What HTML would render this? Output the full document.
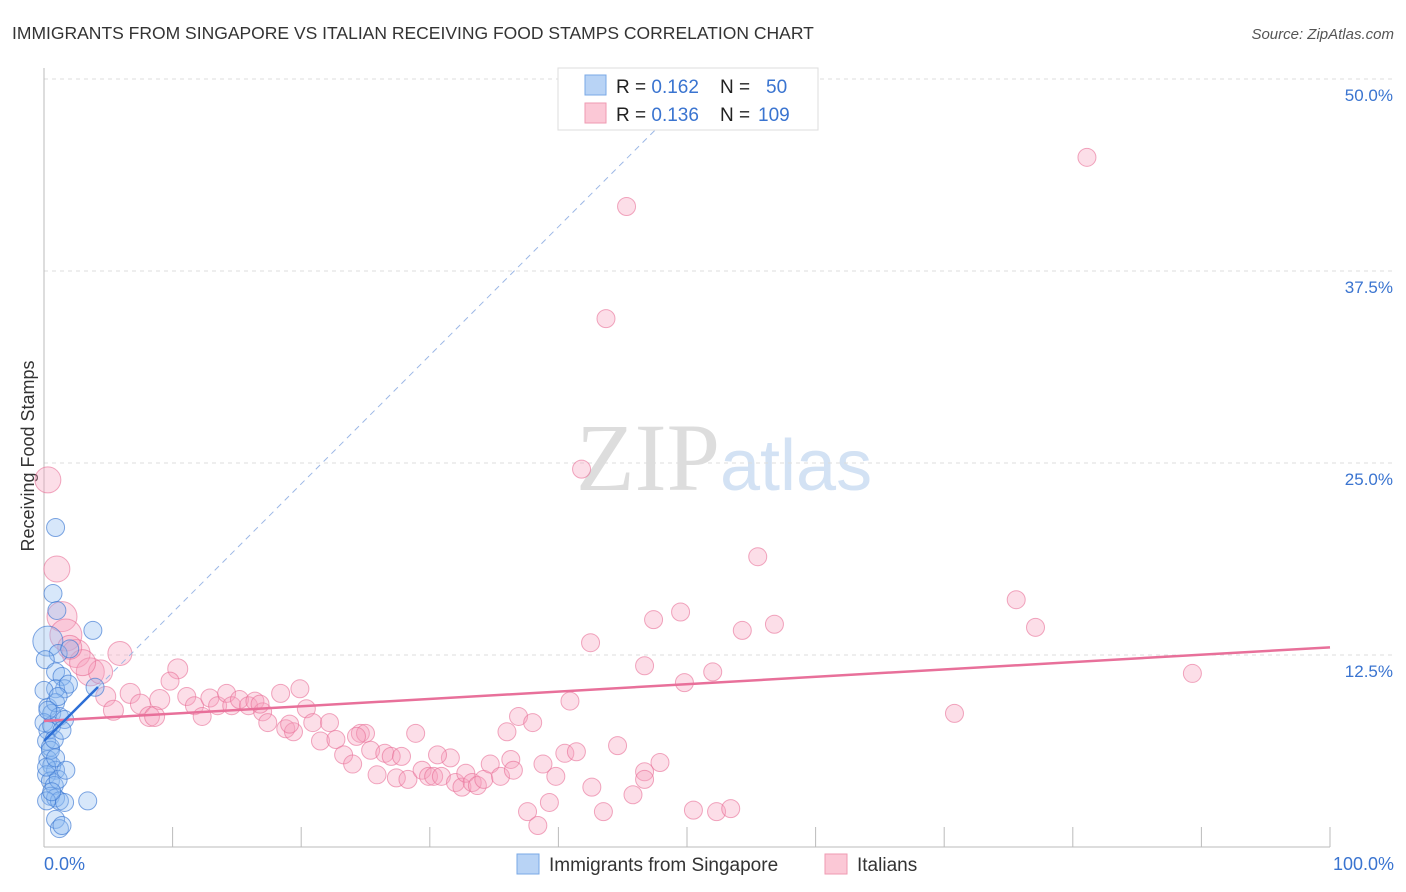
<!DOCTYPE html>
<html><head><meta charset="utf-8"><style>
body{margin:0;background:#fff;font-family:"Liberation Sans",sans-serif;}
#wrap{position:relative;width:1406px;height:892px;overflow:hidden;}
</style></head><body>
<div id="wrap">
<svg id="chart" width="1406" height="892" xmlns="http://www.w3.org/2000/svg">
<text x="12" y="39" font-size="17.5" fill="#333">IMMIGRANTS FROM SINGAPORE VS ITALIAN RECEIVING FOOD STAMPS CORRELATION CHART</text>
<text x="1394" y="39" font-size="15" fill="#555" font-style="italic" text-anchor="end">Source: ZipAtlas.com</text>
<text x="34" y="456" font-size="18" fill="#333" text-anchor="middle" transform="rotate(-90 34 456)">Receiving Food Stamps</text>
<text x="720" y="490" font-size="96" fill="#ddd" font-family="Liberation Serif,serif" text-anchor="end">ZIP</text>
<text x="720" y="490" font-size="72" fill="#d3e2f4" text-anchor="start">atlas</text>
<g id="grid"></g><g id="axes"></g><g id="pinkPts"></g><g id="bluePts"></g><g id="trends"></g>
<g>
<rect x="558" y="68" width="260" height="62" fill="#fff" stroke="#ddd"/>
<rect x="585" y="75" width="21" height="20" fill="#b8d3f5" stroke="#7aa8e6"/>
<rect x="585" y="103" width="21" height="20" fill="#fbc8d6" stroke="#ef9ab2"/>
<text x="616" y="93" font-size="19" fill="#222">R = <tspan fill="#3a74d0">0.162</tspan><tspan x="720">N = </tspan><tspan x="766" fill="#3a74d0">50</tspan></text>
<text x="616" y="121" font-size="19" fill="#222">R = <tspan fill="#3a74d0">0.136</tspan><tspan x="720">N = </tspan><tspan x="758" fill="#3a74d0">109</tspan></text>
</g>
<g>
<rect x="517" y="854" width="22" height="20" fill="#b8d3f5" stroke="#7aa8e6"/>
<text x="549" y="871" font-size="19" fill="#333">Immigrants from Singapore</text>
<rect x="825" y="854" width="22" height="20" fill="#fbc8d6" stroke="#ef9ab2"/>
<text x="857" y="871" font-size="19" fill="#333">Italians</text>
</g>
</svg></div>
<script>
const yTicks=[12.5,25,37.5,50];
const yTickLabels=["12.5%","25.0%","37.5%","50.0%"];
const xTickLabels=["0.0%","100.0%"];
const pinkX=[81.1,45.3,43.7,41.8,0.3,1.0,55.5,75.6,77.1,49.5,47.4,56.8,54.3,42.5,1.4,1.7,5.9,46.7,52.0,89.3,49.8,70.8,2.5,3.6,4.4,10.4,9.8,6.7,4.8,5.4,7.5,9.0,8.2,11.1,11.7,12.3,12.9,13.5,14.2,14.6,15.2,15.9,16.4,17.0,17.4,18.4,18.8,19.4,19.9,20.4,20.9,21.5,22.2,22.7,23.3,24.0,24.6,25.0,25.4,25.9,26.5,27.0,27.4,27.8,28.3,28.9,29.4,29.9,30.3,30.9,31.6,32.0,32.5,32.8,33.3,33.7,34.2,34.7,35.5,36.0,36.3,36.9,38.0,38.8,39.8,39.3,37.6,38.4,40.5,41.4,40.9,42.6,43.5,44.6,45.8,46.7,47.9,50.5,52.3,53.4,46.7,3.0,2.0,8.6,19.1,24.3,30.6,36.5,16.8];
const pinkY=[44.9,41.7,34.4,24.6,23.9,18.1,18.9,16.1,14.3,15.3,14.8,14.5,14.1,13.3,15.0,13.8,12.6,11.8,11.4,11.3,10.7,8.7,12.6,11.4,11.4,11.6,10.8,10.0,9.8,8.9,9.3,9.6,8.5,9.8,9.2,8.5,9.7,9.2,10.0,9.2,9.6,9.2,9.5,8.8,8.1,10.0,7.7,7.5,10.3,9.0,8.1,6.9,8.1,7.0,6.0,5.4,7.4,7.4,6.3,4.7,6.1,5.9,4.5,5.9,4.4,7.4,5.0,4.6,4.6,4.6,5.8,4.2,3.9,4.8,4.2,4.0,4.4,5.4,4.6,7.5,5.7,8.5,8.1,5.4,4.6,2.9,2.3,1.4,6.1,6.2,9.5,3.9,2.3,6.6,3.4,4.9,5.5,2.4,2.3,2.5,4.4,12.0,13.0,8.5,8.0,7.2,6.0,5.0,9.3];
const pinkR=[9,9,9,9,13,13,9,9,9,9,9,9,9,9,15,16,12,9,9,9,9,9,14,14,12,10,9,10,10,10,10,10,10,9,9,9,9,9,9,9,9,9,9,9,9,9,9,9,9,9,9,9,9,9,9,9,9,9,9,9,9,9,9,9,9,9,9,9,9,9,9,9,9,9,9,9,9,9,9,9,9,9,9,9,9,9,9,9,9,9,9,9,9,9,9,9,9,9,9,9,9,13,12,10,9,9,9,9,9];
const blueX=[0.9,0.7,1.0,3.8,0.3,1.1,2.0,0.1,0.9,1.4,1.6,0.9,1.9,3.970,0.3,0.6,0.9,0.0,0.3,0.6,1.2,1.6,0.2,0.5,0.3,0.6,0.9,0.2,0.5,0.8,1.1,0.5,0.9,1.2,1.6,3.4,0.9,1.2,1.4,0.2,0.5,0.8,0.2,0.6,0.0,1.1,1.4,0.3,0.9,1.7];
const blueY=[20.8,16.5,15.4,14.1,13.4,12.6,12.9,12.2,11.4,11.1,10.3,10.3,10.6,10.4,9.1,8.7,9.4,8.1,7.6,7.9,8.5,8.3,6.9,6.5,5.7,5.3,5.0,4.7,4.3,4.0,4.4,3.3,3.2,3.0,2.9,3.0,1.8,1.2,1.4,5.2,6.3,7.0,3.0,3.6,10.2,9.8,7.6,8.9,5.8,5.0];
const blueR=[9,9,9,9,15,9,9,9,9,9,9,9,9,9,9,9,9,9,9,9,9,9,9,9,9,9,9,9,9,9,9,9,9,9,9,9,9,9,9,9,9,9,9,9,9,9,9,9,9,9];
const pinkTrend=[8.2,13.0];
const blueTrend=[6.9,0.837];
const X0=44,X1=1330,YB=847,YPX=15.36;
const sx=v=>X0+v*(X1-X0)/100, sy=v=>YB-v*YPX;
const NS="http://www.w3.org/2000/svg";
function mk(tag,attrs,parent){const e=document.createElementNS(NS,tag);for(const k in attrs)e.setAttribute(k,attrs[k]);parent.appendChild(e);return e;}
const grid=document.getElementById('grid'),axes=document.getElementById('axes');
yTicks.forEach((t,i)=>{
 const l=mk('line',{x1:X0,x2:1394,y1:sy(t),y2:sy(t),stroke:'#ddd','stroke-dasharray':'4,4'},grid);
 
 
 const tx=mk('text',{x:1393,y:sy(t)+22,'font-size':17,fill:'#3a74d0','text-anchor':'end'},axes);
 tx.textContent=yTickLabels[i];
 
 
});
const ax=mk('line',{x1:X0,x2:X0,y1:68,y2:YB,stroke:'#bbb'},axes);


const bx=mk('line',{x1:X0,x2:X1,y1:YB,y2:YB,stroke:'#bbb'},axes);


for(let i=1;i<=10;i++){const t=mk('line',{x1:sx(i*10),x2:sx(i*10),y1:827,y2:YB,stroke:'#bbb'},axes);
 
 }
[[0,'start',44],[100,'end',1394]].forEach((d,i)=>{const t=mk('text',{x:d[2],y:870,'font-size':18,fill:'#3a74d0','text-anchor':d[1]},axes);t.textContent=xTickLabels[i];
 
 });
const pg=document.getElementById('pinkPts');
pinkX.forEach((x,i)=>{const c=mk('circle',{cx:sx(x),cy:sy(pinkY[i]),r:pinkR[i],fill:'rgba(246,160,190,0.35)',stroke:'rgba(232,110,150,0.6)','stroke-width':1},pg);
 
 });
const bg=document.getElementById('bluePts');
blueX.forEach((x,i)=>{const c=mk('circle',{cx:sx(x),cy:sy(blueY[i]),r:blueR[i],fill:'rgba(140,185,240,0.35)',stroke:'rgba(60,120,210,0.65)','stroke-width':1},bg);
 
 });
const tg=document.getElementById('trends');
const pl=mk('line',{x1:sx(0),y1:sy(pinkTrend[0]),x2:sx(100),y2:sy(pinkTrend[1]),stroke:'#e8709a','stroke-width':2.5},tg);


const bl=mk('line',{x1:sx(0),y1:sy(blueTrend[0]),x2:sx(4.2),y2:sy(blueTrend[0]+blueTrend[1]*4.2),stroke:'#2d6fd6','stroke-width':2.5},tg);


const bd=mk('line',{x1:sx(4.2),y1:sy(blueTrend[0]+blueTrend[1]*4.2),x2:sx(47.8),y2:sy(blueTrend[0]+blueTrend[1]*47.8),stroke:'#9db8e6','stroke-width':1,'stroke-dasharray':'6,5'},tg);


</script>
</body></html>
